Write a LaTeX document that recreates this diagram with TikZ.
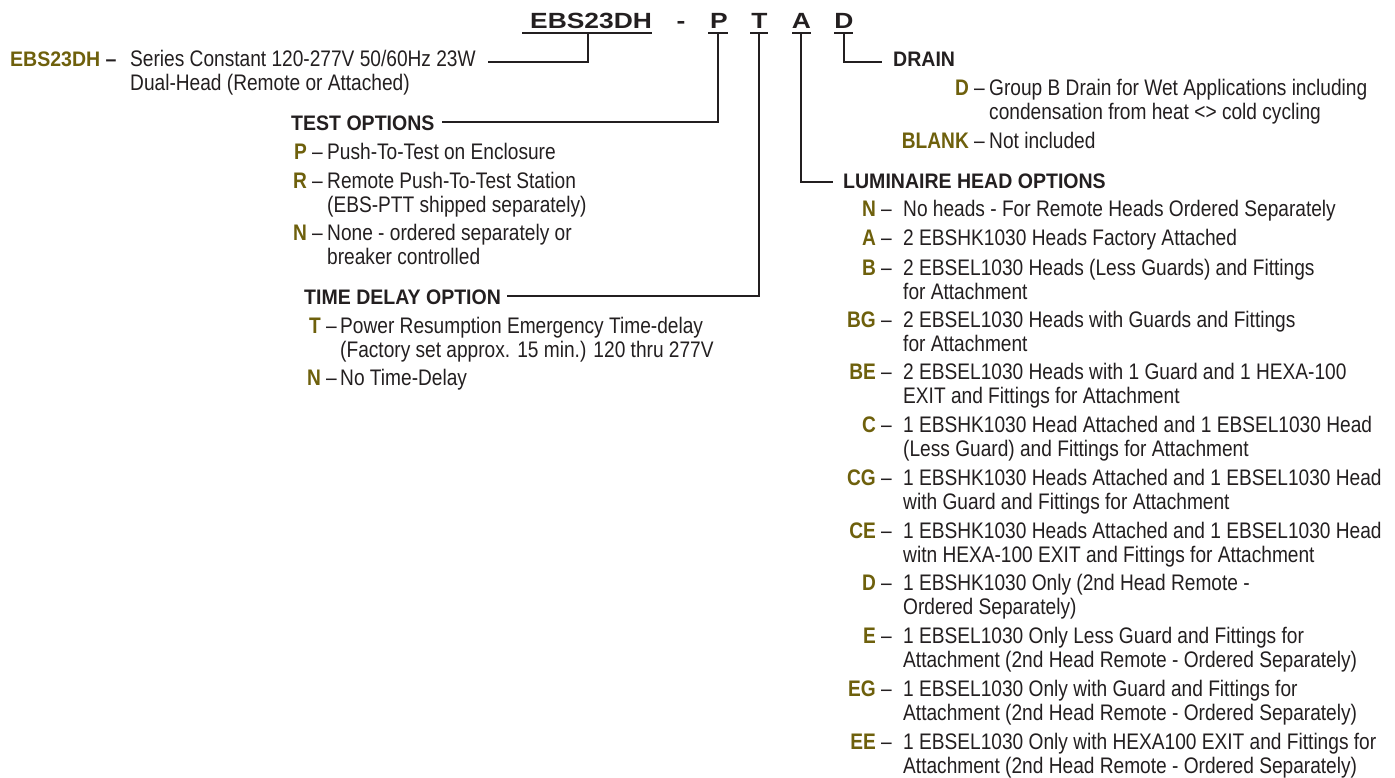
\documentclass[tikz,border=0pt]{standalone}
\usepackage{fontspec}
\setmainfont{Liberation Sans}
\newfontfamily\condfont[FakeStretch=0.85]{Liberation Sans}
\newfontfamily\ttlfont[FakeStretch=0.93]{Liberation Sans}
\newfontfamily\hdrfont[FakeStretch=1.2]{Liberation Sans}
\definecolor{olivec}{RGB}{110,96,12}
\definecolor{ink}{RGB}{35,31,32}
\newcommand\kk[1]{\textcolor{olivec}{\bfseries #1}}
\tikzset{
  body/.style={font=\condfont\fontsize{22.5}{24}\selectfont, text=ink, inner sep=0pt, anchor=base west, align=left},
  bodytwo/.style={body, yshift=-24pt},
  keyl/.style={font=\condfont\fontsize{22.5}{24}\selectfont, text=ink, inner sep=0pt, anchor=base east},
  ttl/.style={font=\ttlfont\bfseries\fontsize{21}{24}\selectfont, text=ink, inner sep=0pt, anchor=base west},
  hdr/.style={font=\hdrfont\bfseries\fontsize{22}{24}\selectfont, text=ink, inner sep=0pt, anchor=base},
  conn/.style={draw=ink, line width=2.3pt},
}
\begin{document}
\begin{tikzpicture}[x=1pt,y=-1pt]
\useasboundingbox (0,0) rectangle (1395,778);
% header code
\node[hdr, anchor=base west] (hE) at (530,29) {EBS23DH};
\node[hdr] (hdash) at (681,29) {-};
\node[hdr] (hP) at (719,29) {P};
\node[hdr] (hT) at (759.5,29) {T};
\node[hdr] (hA) at (801.5,29) {A};
\node[hdr] (hD) at (844,29) {D};
% underlines
\draw[conn] (522,33) -- (652,33);
\draw[conn] (708,33) -- (728,33);
\draw[conn] (750,33) -- (768,33);
\draw[conn] (792,33) -- (811,33);
\draw[conn] (834,33) -- (853,33);
\coordinate (uE) at (588,33);
\coordinate (uP) at (718,33);
\coordinate (uT) at (759,33);
\coordinate (uA) at (801,33);
\coordinate (uD) at (844,33);
\coordinate (eEnd) at (488,62);
\coordinate (pEnd) at (442,122);
\coordinate (tEnd) at (507,296);
\coordinate (aEnd) at (833,182);
\coordinate (dEnd) at (882,62);
\draw[conn] (uE) |- (eEnd);
\draw[conn] (uP) |- (pEnd);
\draw[conn] (uT) |- (tEnd);
\draw[conn] (uA) |- (aEnd);
\draw[conn] (uD) |- (dEnd);
% series
\node[ttl] (lbl) at (10,67) {\textcolor{olivec}{EBS23DH} –};
\node[bodytwo] (series) at (130,67) {Series Constant 120-277V 50/60Hz 23W\\Dual-Head (Remote or Attached)};
% test options
\node[ttl] (test) at (291,131) {TEST OPTIONS};
\node[keyl] (kP) at (323,159.5) {\kk{P} –};
\node[body] (tP) at (327,159.5) {Push-To-Test on Enclosure};
\node[keyl] (kR) at (323,188.5) {\kk{R} –};
\node[bodytwo] (tR) at (327,188.5) {Remote Push-To-Test Station\\(EBS-PTT shipped separately)};
\node[keyl] (kN1) at (323,240.5) {\kk{N} –};
\node[bodytwo] (tN1) at (327,240.5) {None - ordered separately or\\breaker controlled};
% time delay
\node[ttl] (time) at (304,304) {TIME DELAY OPTION};
\node[keyl] (kT) at (337,333.5) {\kk{T} –};
\node[bodytwo] (tT) at (340,333.5) {Power Resumption Emergency Time-delay\\(Factory set approx. 15 min.) 120 thru 277V};
\node[keyl] (kN2) at (337,385.5) {\kk{N} –};
\node[body] (tN2) at (340,385.5) {No Time-Delay};
% drain
\node[ttl] (drain) at (893,67) {DRAIN};
\node[keyl] (kDD) at (985,95.5) {\kk{D} –};
\node[bodytwo] (tDD) at (989,95.5) {Group B Drain for Wet Applications including\\condensation from heat <> cold cycling};
\node[keyl] (kBL) at (985,148.5) {\kk{BLANK} –};
\node[body] (tBL) at (989,148.5) {Not included};
% luminaire
\node[ttl] (lum) at (843,188.5) {LUMINAIRE HEAD OPTIONS};
\node[keyl] (kLN) at (892,216.5) {\kk{N} –};
\node[body] (tLN) at (903,216.5) {No heads - For Remote Heads Ordered Separately};
\node[keyl] (kLA) at (892,245.5) {\kk{A} –};
\node[body] (tLA) at (903,245.5) {2 EBSHK1030 Heads Factory Attached};
\node[keyl] (kLB) at (892,275.5) {\kk{B} –};
\node[bodytwo] (tLB) at (903,275.5) {2 EBSEL1030 Heads (Less Guards) and Fittings\\for Attachment};
\node[keyl] (kLBG) at (892,327.5) {\kk{BG} –};
\node[bodytwo] (tLBG) at (903,327.5) {2 EBSEL1030 Heads with Guards and Fittings\\for Attachment};
\node[keyl] (kLBE) at (892,379.5) {\kk{BE} –};
\node[bodytwo] (tLBE) at (903,379.5) {2 EBSEL1030 Heads with 1 Guard and 1 HEXA-100\\EXIT and Fittings for Attachment};
\node[keyl] (kLC) at (892,432.5) {\kk{C} –};
\node[bodytwo] (tLC) at (903,432.5) {1 EBSHK1030 Head Attached and 1 EBSEL1030 Head\\(Less Guard) and Fittings for Attachment};
\node[keyl] (kLCG) at (892,485.5) {\kk{CG} –};
\node[bodytwo] (tLCG) at (903,485.5) {1 EBSHK1030 Heads Attached and 1 EBSEL1030 Head\\with Guard and Fittings for Attachment};
\node[keyl] (kLCE) at (892,538.5) {\kk{CE} –};
\node[bodytwo] (tLCE) at (903,538.5) {1 EBSHK1030 Heads Attached and 1 EBSEL1030 Head\\witn HEXA-100 EXIT and Fittings for Attachment};
\node[keyl] (kLD) at (892,590.5) {\kk{D} –};
\node[bodytwo] (tLD) at (903,590.5) {1 EBSHK1030 Only (2nd Head Remote -\\Ordered Separately)};
\node[keyl] (kLE) at (892,643.5) {\kk{E} –};
\node[bodytwo] (tLE) at (903,643.5) {1 EBSEL1030 Only Less Guard and Fittings for\\Attachment (2nd Head Remote - Ordered Separately)};
\node[keyl] (kLEG) at (892,696.5) {\kk{EG} –};
\node[bodytwo] (tLEG) at (903,696.5) {1 EBSEL1030 Only with Guard and Fittings for\\Attachment (2nd Head Remote - Ordered Separately)};
\node[keyl] (kLEE) at (892,749.5) {\kk{EE} –};
\node[bodytwo] (tLEE) at (903,749.5) {1 EBSEL1030 Only with HEXA100 EXIT and Fittings for\\Attachment (2nd Head Remote - Ordered Separately)};
\end{tikzpicture}
\end{document}
